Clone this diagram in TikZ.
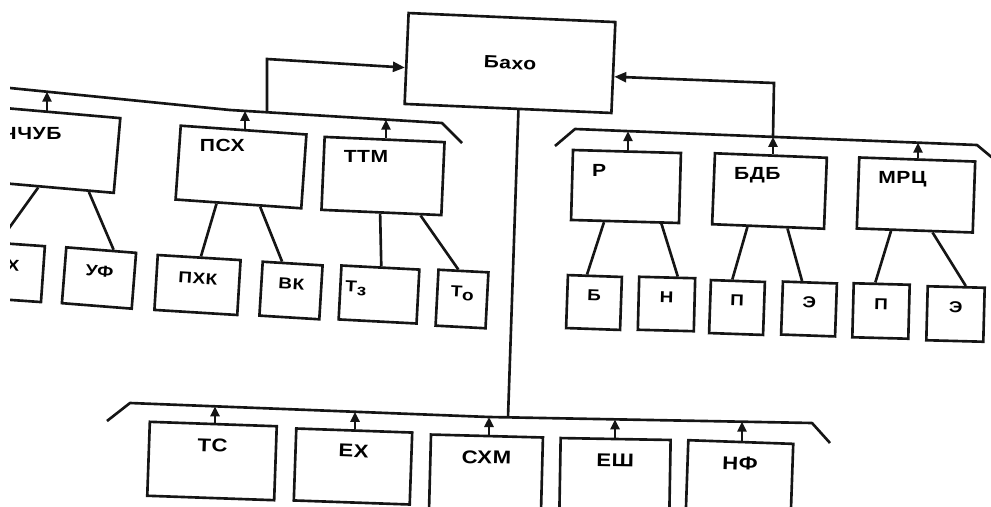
\documentclass[tikz,border=0pt]{standalone}
\usepackage{fontspec}
\setmainfont{Liberation Sans}[FakeStretch=1.2, LetterSpace=3]
\usepackage{xcolor}
\usetikzlibrary{arrows.meta, calc}
\definecolor{ink}{HTML}{151515}
\tikzset{
  box/.style={draw=ink, line width=1.5pt, inner sep=2pt},
  leaf/.style={box, font=\bfseries\fontsize{9}{10}\selectfont, text height=6.4pt, text depth=8pt},
  grp/.style={box, font=\bfseries\fontsize{10.5}{12}\selectfont, text height=7.5pt, text depth=18pt},
  tag/.style={anchor=north west, inner sep=0pt, xshift=0.4cm, yshift=-0.3cm, font=\bfseries\fontsize{10}{12}\selectfont},
  link/.style={draw=ink, line width=1.5pt},
  bus/.style={link, line join=round},
  up/.style={link, -{Triangle[length=2mm, width=1.8mm]}},
  feed/.style={link, -{Triangle[length=2.4mm, width=2mm]}}
}

\begin{document}
\begin{tikzpicture}[x=0.02cm, y=0.02cm]
\useasboundingbox (0,0) rectangle (991,-507);
\clip (10,0) rectangle (991,-507);

% top
\node[box, minimum width=4.14cm, minimum height=1.82cm, rotate=-2.5, font=\bfseries\fontsize{10}{12}\selectfont] (baho) at (510,-63) {Бахо};

% left group
\node[box, minimum width=2.7cm, minimum height=1.5cm, rotate=-5, label={[tag, xshift=-0.06cm, yshift=-0.15cm]north west:ЧЧУБ}] (chub) at (49.8,-149.6) {};
\node[box, minimum width=2.52cm, minimum height=1.48cm, rotate=-4, label={[tag]north west:ПСХ}] (psx) at (241,-167) {};
\node[box, minimum width=2.4cm, minimum height=1.46cm, rotate=-2.5, label={[tag]north west:ТТМ}] (ttm) at (383,-176) {};
\node[leaf, minimum width=1.22cm, minimum height=1.12cm, rotate=-4] (xl) at (12.5,-272) {Х};
\node[leaf, minimum width=1.4cm, minimum height=1.12cm, rotate=-4.5] (uf) at (99,-278) {УФ};
\node[leaf, minimum width=1.66cm, minimum height=1.1cm, rotate=-3.5] (pxk) at (197.5,-285) {ПХК};
\node[leaf, minimum width=1.2cm, minimum height=1.08cm, rotate=-3.5] (vk) at (291,-290.5) {ВК};
\node[leaf, minimum width=1.56cm, minimum height=1.08cm, rotate=-3, inner xsep=0.1cm, text width=1.36cm, align=left] (tz) at (379,-294.5) {Т\raisebox{-.4ex}{з}};
\node[leaf, minimum width=1cm, minimum height=1.12cm, rotate=-3] (tor) at (462,-299) {Т\raisebox{-.4ex}{о}};

% right group
\node[box, minimum width=2.16cm, minimum height=1.4cm, rotate=-1.6, label={[tag]north west:Р}] (r) at (626,-186.5) {};
\node[box, minimum width=2.24cm, minimum height=1.42cm, rotate=-2.3, label={[tag]north west:БДБ}] (bdb) at (769.5,-191) {};
\node[box, minimum width=2.32cm, minimum height=1.42cm, rotate=-2, label={[tag]north west:МРЦ}] (mrc) at (916,-195) {};
\node[leaf, minimum width=1.08cm, minimum height=1.06cm, rotate=-2] (rb) at (594,-302.5) {Б};
\node[leaf, minimum width=1.12cm, minimum height=1.06cm, rotate=-1.5] (rn) at (666.5,-304) {Н};
\node[leaf, minimum width=1.08cm, minimum height=1.06cm, rotate=-2] (bp) at (737,-307.5) {П};
\node[leaf, minimum width=1.08cm, minimum height=1.06cm, rotate=-2] (be) at (809,-309) {Э};
\node[leaf, minimum width=1.12cm, minimum height=1.08cm, rotate=-1.5] (mp) at (881,-311) {П};
\node[leaf, minimum width=1.14cm, minimum height=1.08cm, rotate=-1.5] (me) at (955.5,-314) {Э};

% bottom group
\node[grp, minimum width=2.54cm, minimum height=1.48cm, rotate=-2] (tc) at (212,-461) {ТС};
\node[grp, minimum width=2.32cm, minimum height=1.44cm, rotate=-2] (ex) at (353,-466.5) {ЕХ};
\node[grp, minimum width=2.24cm, minimum height=1.48cm, rotate=-1.5] (sxm) at (486,-473) {СХМ};
\node[grp, minimum width=2.2cm, minimum height=1.48cm, rotate=-1] (esh) at (615,-476) {ЕШ};
\node[grp, minimum width=2.1cm, minimum height=1.48cm, rotate=-2] (nf) at (739.5,-479) {НФ};

% buses
\draw[bus] (-20,-85) -- (230,-110) -- (442,-123) -- (462,-143);
\draw[bus] (555,-146) -- (575,-129) -- (977,-145) -- (995,-160);
\draw[bus] (107,-421) -- (130,-403) -- (489,-417) -- (812,-423) -- (830,-443);

\coordinate (la1) at (47,-91.7);
\coordinate (la2) at (245,-110.9);
\coordinate (la3) at (386,-119.6);
\coordinate (ra1) at (628,-131.1);
\coordinate (ra2) at (773,-136.9);
\coordinate (ra3) at (918,-142.7);
\coordinate (ba1) at (215,-406.3);
\coordinate (ba2) at (355,-411.8);
\coordinate (ba3) at (489,-417);
\coordinate (ba4) at (615,-419.3);
\coordinate (ba5) at (742,-421.7);

% arrows up to the buses
\draw[up] (la1 |- chub.north) -- (la1);
\draw[up] (la2 |- psx.north) -- (la2);
\draw[up] (la3 |- ttm.north) -- (la3);
\draw[up] (ra1 |- r.north) -- (ra1);
\draw[up] (ra2 |- bdb.north) -- (ra2);
\draw[up] (ra3 |- mrc.north) -- (ra3);
\draw[up] (ba1 |- tc.north) -- (ba1);
\draw[up] (ba2 |- ex.north) -- (ba2);
\draw[up] (ba3 |- sxm.north) -- (ba3);
\draw[up] (ba4 |- esh.north) -- (ba4);
\draw[up] (ba5 |- nf.north) -- (ba5);

% feeds into Бахо
\coordinate (lfeed) at (267,-112.3);
\coordinate (lcorner) at (267,-59);
\coordinate (rcorner) at (774,-83);
\coordinate (trunk) at (508,-417.4);
\draw[feed] (lfeed) -- (lcorner) -- (baho.185);
\draw[feed] (ra2) -- (rcorner) -- (baho.-5);
\draw[link] ($(baho.south west)!.55!(baho.south east)$) -- (trunk);

% tree lines
\draw[link] ($(chub.south west)!.44!(chub.south east)$) -- ($(xl.north west)!.26!(xl.north east)$);
\draw[link] ($(chub.south west)!.81!(chub.south east)$) -- ($(uf.north west)!.67!(uf.north east)$);
\draw[link] ($(psx.south west)!.33!(psx.south east)$) -- ($(pxk.north west)!.52!(pxk.north east)$);
\draw[link] ($(psx.south west)!.67!(psx.south east)$) -- ($(vk.north west)!.33!(vk.north east)$);
\draw[link] ($(ttm.south west)!.49!(ttm.south east)$) -- ($(tz.north west)!.51!(tz.north east)$);
\draw[link] ($(ttm.south west)!.82!(ttm.south east)$) -- ($(tor.north west)!.4!(tor.north east)$);
\draw[link] ($(r.south west)!.31!(r.south east)$) -- ($(rb.north west)!.36!(rb.north east)$);
\draw[link] ($(r.south west)!.83!(r.south east)$) -- ($(rn.north west)!.68!(rn.north east)$);
\draw[link] ($(bdb.south west)!.32!(bdb.south east)$) -- ($(bp.north west)!.4!(bp.north east)$);
\draw[link] ($(bdb.south west)!.67!(bdb.south east)$) -- ($(be.north west)!.36!(be.north east)$);
\draw[link] ($(mrc.south west)!.30!(mrc.south east)$) -- ($(mp.north west)!.39!(mp.north east)$);
\draw[link] ($(mrc.south west)!.65!(mrc.south east)$) -- ($(me.north west)!.66!(me.north east)$);
\end{tikzpicture}
\end{document}
